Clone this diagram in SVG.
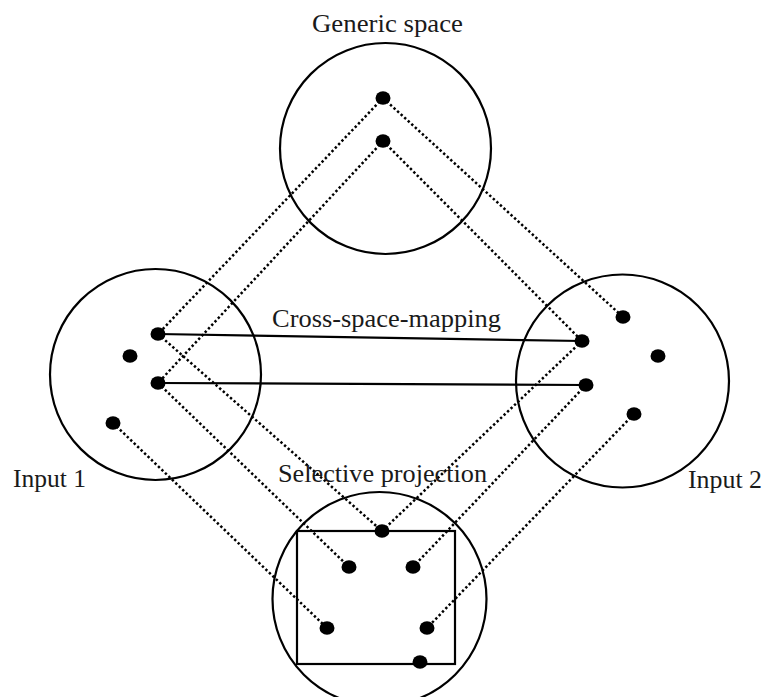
<svg xmlns="http://www.w3.org/2000/svg" width="763" height="697" viewBox="0 0 763 697">
  <style>
    .space { fill: none; stroke: #000; stroke-width: 2.2; }
    .frame { fill: none; stroke: #000; stroke-width: 2.2; }
    .el { fill: #000; }
    .map { stroke: #000; stroke-width: 2.2; fill: none; }
    .proj { stroke: #000; stroke-width: 2.5; fill: none; stroke-dasharray: 2.4 2.4; }
    .label { font-family: "Liberation Serif", "Times New Roman", serif; font-size: 25px; fill: #1a1a1a; }
  </style>
  <defs>
    <ellipse id="dot" rx="7.5" ry="6.8" class="el"/>
  </defs>
  <rect width="763" height="697" fill="#fff"/>

  <!-- connectors: dotted projections and solid cross-space mappings -->
  <g id="connectors">
    <!-- generic space to inputs -->
    <line class="proj" x1="383" y1="98" x2="158" y2="334"/>
    <line class="proj" x1="383" y1="98" x2="623" y2="317"/>
    <line class="proj" x1="383" y1="141" x2="158" y2="383"/>
    <line class="proj" x1="383" y1="141" x2="582" y2="341"/>
    <!-- inputs to blend -->
    <line class="proj" x1="158" y1="334" x2="382" y2="531"/>
    <line class="proj" x1="158" y1="383" x2="349" y2="567"/>
    <line class="proj" x1="113" y1="423" x2="327" y2="628"/>
    <line class="proj" x1="582" y1="341" x2="382" y2="531"/>
    <line class="proj" x1="586" y1="385" x2="413" y2="567"/>
    <line class="proj" x1="634" y1="414" x2="427" y2="628"/>
    <!-- cross-space mapping -->
    <line class="map" x1="158" y1="334" x2="582" y2="341"/>
    <line class="map" x1="158" y1="383" x2="586" y2="385"/>
  </g>

  <g id="generic-space">
    <circle class="space" cx="385.5" cy="148.5" r="105.5"/>
    <use href="#dot" x="383" y="98"/>
    <use href="#dot" x="383" y="141"/>
    <text class="label" x="312" y="32" textLength="151" lengthAdjust="spacingAndGlyphs">Generic space</text>
  </g>

  <g id="input-1">
    <circle class="space" cx="155.5" cy="374.5" r="105.5"/>
    <use href="#dot" x="158" y="334"/>
    <use href="#dot" x="130" y="356"/>
    <use href="#dot" x="158" y="383"/>
    <use href="#dot" x="113" y="423"/>
    <text class="label" x="13" y="487" textLength="73" lengthAdjust="spacingAndGlyphs">Input 1</text>
  </g>

  <g id="input-2">
    <circle class="space" cx="622.5" cy="381" r="106.5"/>
    <use href="#dot" x="623" y="317"/>
    <use href="#dot" x="582" y="341"/>
    <use href="#dot" x="658" y="356"/>
    <use href="#dot" x="586" y="385"/>
    <use href="#dot" x="634" y="414"/>
    <text class="label" x="688" y="488" textLength="74" lengthAdjust="spacingAndGlyphs">Input 2</text>
  </g>

  <g id="cross-space-mapping">
    <text class="label" x="272" y="327" textLength="229" lengthAdjust="spacingAndGlyphs">Cross-space-mapping</text>
  </g>

  <g id="blend">
    <circle class="space" cx="379.5" cy="599" r="107"/>
    <rect class="frame" x="297" y="531" width="158" height="133"/>
    <use href="#dot" x="382" y="531"/>
    <use href="#dot" x="349" y="567"/>
    <use href="#dot" x="413" y="567"/>
    <use href="#dot" x="327" y="628"/>
    <use href="#dot" x="427" y="628"/>
    <use href="#dot" x="420" y="662"/>
    <text class="label" x="278" y="482" textLength="209" lengthAdjust="spacingAndGlyphs">Selective projection</text>
  </g>
</svg>
